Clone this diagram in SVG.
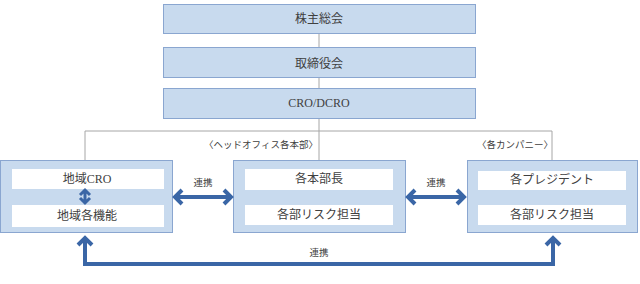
<svg xmlns="http://www.w3.org/2000/svg" width="640" height="284" viewBox="0 0 640 284">
<style>
.box{fill:#c8daee;stroke:#8aa6d0;stroke-width:1}
.inner{fill:#ffffff;stroke:none}
.t{font-family:"Liberation Serif","Noto Sans CJK JP",serif;font-size:12px;fill:#404040;text-anchor:middle;dominant-baseline:central}
.s{font-family:"Liberation Serif","Noto Sans CJK JP",serif;font-size:9.5px;fill:#404040;text-anchor:middle;dominant-baseline:central}
.line{fill:none;stroke:#a6a6a6;stroke-width:1}
.arr{fill:none;stroke:#3a66a6;stroke-width:4;stroke-linejoin:miter}
.arr3{fill:none;stroke:#3a66a6;stroke-width:3;stroke-linejoin:miter}
</style>
<rect width="640" height="284" fill="#ffffff"/>
<g id="n1"><rect class="box" x="163.5" y="4.5" width="312" height="29"/><text class="t" x="319" y="19">株主総会</text></g>
<g id="n2"><rect class="box" x="163.5" y="47.5" width="312" height="30"/><text class="t" x="319" y="64">取締役会</text></g>
<g id="n3"><rect class="box" x="163.5" y="88.5" width="312" height="30"/><text class="t" x="319" y="103">CRO/DCRO</text></g>
<g id="n4"><rect class="box" x="0.5" y="160.5" width="172" height="72"/>
<rect class="inner" x="12" y="169" width="152" height="20"/><text class="t" x="87" y="179">地域CRO</text>
<rect class="inner" x="12" y="205" width="152" height="22"/><text class="t" x="87" y="216">地域各機能</text></g>
<g id="n5"><rect class="box" x="233.5" y="160.5" width="172" height="72"/>
<rect class="inner" x="245" y="169" width="148" height="21"/><text class="t" x="319" y="179">各本部長</text>
<rect class="inner" x="245" y="205" width="148" height="20"/><text class="t" x="319" y="215">各部リスク担当</text></g>
<g id="n6"><rect class="box" x="467.5" y="160.5" width="170" height="72"/>
<rect class="inner" x="478" y="171" width="148" height="19"/><text class="t" x="552" y="180">各プレジデント</text>
<rect class="inner" x="478" y="205" width="148" height="20"/><text class="t" x="552" y="215">各部リスク担当</text></g>
<g id="connectors">
<path class="line" d="M319,34V47M319,78V88M319,119V160M85,160V131H552V160"/>
<path class="arr" d="M176,197H230M182,190L175,197L182,204M224,190L231,197L224,204"/>
<path class="arr" d="M409,197H463M415,190L408,197L415,204M457,190L464,197L457,204"/>
<path class="arr" d="M85,239V264H553V239M78,245L85,238L92,245M546,245L553,238L560,245"/>
<path class="arr3" d="M85,191V202M80,195L85,190L90,195M80,198L85,203L90,198"/>
<text class="s" x="203" y="183">連携</text>
<text class="s" x="436" y="183">連携</text>
<text class="s" x="319" y="253">連携</text>
<text class="s" x="261" y="145">〈ヘッドオフィス各本部〉</text>
<text class="s" x="515" y="145">〈各カンパニー〉</text>
</g>
</svg>
